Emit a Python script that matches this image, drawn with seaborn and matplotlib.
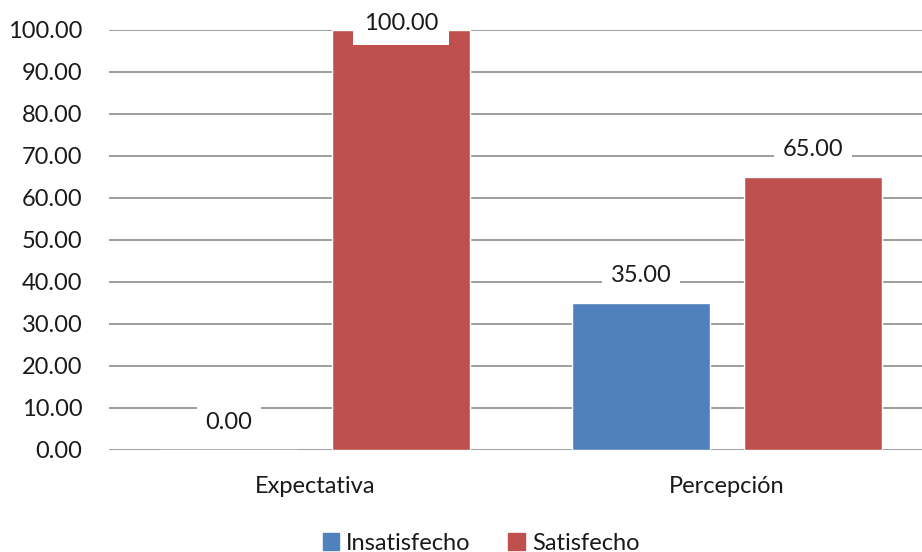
import matplotlib
matplotlib.use("Agg")
import matplotlib.pyplot as plt
import seaborn as sns
import pandas as pd

categories = ["Expectativa", "Percepción"]
series = ["Insatisfecho", "Satisfecho"]
insatisfecho = [0.00, 35.00]
satisfecho = [100.00, 65.00]
yticks = [0, 10, 20, 30, 40, 50, 60, 70, 80, 90, 100]
colors = ["#4F81BD", "#C0504D"]

sns.set_theme(style="white")
plt.rcParams["font.family"] = ["Lato", "DejaVu Sans"]

df = pd.DataFrame({
    "Categoria": categories * 2,
    "Serie": [series[0]] * 2 + [series[1]] * 2,
    "Valor": insatisfecho + satisfecho,
})

FS = 17
fig = plt.figure(figsize=(9.22, 5.52), dpi=100)
ax = fig.add_axes([109 / 922, 1 - 450 / 552, (922 - 109) / 922, 420 / 552])

sns.barplot(data=df, x="Categoria", y="Valor", hue="Serie", order=categories,
            hue_order=series, palette=colors, width=0.835, gap=0.2,
            saturation=1, ax=ax, legend=True, errorbar=None, zorder=3)

ax.set_ylim(0, 100)
ax.set_xlim(-0.5, -0.5 + 813 / 412)
ax.set_yticks(yticks)
ax.set_yticklabels([f"{v:.2f}" for v in yticks], fontsize=FS, color="#1a1a1a")
ax.tick_params(axis="y", length=0, pad=19)
ax.tick_params(axis="x", length=0, pad=19, labelsize=FS, labelcolor="#1a1a1a")
ax.set_xlabel("")
ax.set_ylabel("")
ax.yaxis.grid(True, color="#8C8C8C", linewidth=1.2, zorder=0)
ax.set_axisbelow(True)
for s in ax.spines.values():
    s.set_visible(False)

for cont in ax.containers:
    for bar in cont:
        h = bar.get_height()
        xc = bar.get_x() + bar.get_width() / 2
        if h >= 95:
            ax.annotate(f"{h:.2f}", (xc, h), xytext=(0, 4.5), textcoords="offset points",
                        ha="center", va="center", fontsize=FS, color="#1a1a1a",
                        bbox=dict(boxstyle="square,pad=0.45", fc="white", ec="none"),
                        zorder=5, annotation_clip=False)
        else:
            ax.annotate(f"{h:.2f}", (xc, h), xytext=(0, 19.5), textcoords="offset points",
                        ha="center", va="center", fontsize=FS, color="#1a1a1a",
                        bbox=dict(boxstyle="square,pad=0.35", fc="white", ec="none"),
                        zorder=5)

ax.legend_.remove()
handles = [plt.Rectangle((0, 0), 1, 1, color=c) for c in colors]
fig.legend(handles, series, loc="center", bbox_to_anchor=(481 / 922, 1 - 543 / 552),
           ncol=2, frameon=False, fontsize=FS, handlelength=0.7, handleheight=0.7,
           handletextpad=0.3, columnspacing=1.6, labelcolor="#1a1a1a")

fig.savefig("out.png", dpi=100)
